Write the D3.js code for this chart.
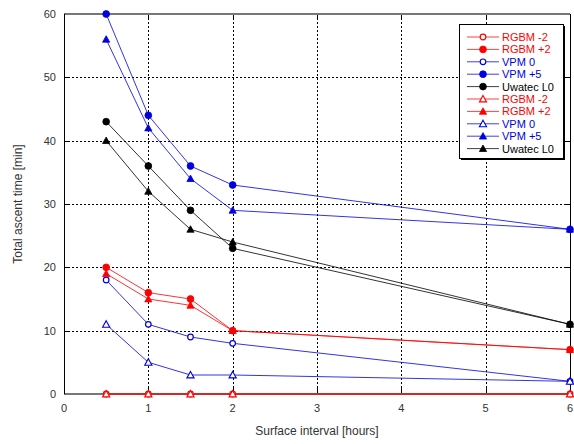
<!DOCTYPE html>
<html><head><meta charset="utf-8">
<script src="https://cdn.jsdelivr.net/npm/d3@7"></script>
<style>body{margin:0;background:#fff}svg{display:block}text{font-family:"Liberation Sans",Arial,sans-serif}</style>
</head><body>
<script>
const intervals = [0.5, 1, 1.5, 2, 6];
const seriesNames = ["RGBM -2","RGBM +2","VPM 0","VPM +5","Uwatec L0","RGBM -2","RGBM +2","VPM 0","VPM +5","Uwatec L0"];
const rgbmM2Circ = [0, 0, 0, 0, 0];
const rgbmP2Circ = [20, 16, 15, 10, 7];
const vpm0Circ = [18, 11, 9, 8, 2];
const vpm5Circ = [60, 44, 36, 33, 26];
const uwatecCirc = [43, 36, 29, 23, 11];
const rgbmM2Tri = [0, 0, 0, 0, 0];
const rgbmP2Tri = [19, 15, 14, 10, 7];
const vpm0Tri = [11, 5, 3, 3, 2];
const vpm5Tri = [56, 42, 34, 29, 26];
const uwatecTri = [40, 32, 26, 24, 11];
const xTicks = [0,1,2,3,4,5,6];
const yTicks = [0,10,20,30,40,50,60];

const RED="#ff0000", BLUE="#0000e0", BLACK="#000000";
const series = [
 {name:seriesNames[0], v:rgbmM2Circ, c:RED, m:"circle", fill:false},
 {name:seriesNames[1], v:rgbmP2Circ, c:RED, m:"circle", fill:true},
 {name:seriesNames[2], v:vpm0Circ, c:BLUE, m:"circle", fill:false},
 {name:seriesNames[3], v:vpm5Circ, c:BLUE, m:"circle", fill:true},
 {name:seriesNames[4], v:uwatecCirc, c:BLACK, m:"circle", fill:true},
 {name:seriesNames[5], v:rgbmM2Tri, c:RED, m:"tri", fill:false},
 {name:seriesNames[6], v:rgbmP2Tri, c:RED, m:"tri", fill:true},
 {name:seriesNames[7], v:vpm0Tri, c:BLUE, m:"tri", fill:false},
 {name:seriesNames[8], v:vpm5Tri, c:BLUE, m:"tri", fill:true},
 {name:seriesNames[9], v:uwatecTri, c:BLACK, m:"tri", fill:true}
];

const W=574,H=444, L=64,R=570,T=14,B=394;
const svg=d3.select("body").append("svg").attr("width",W).attr("height",H);
svg.append("rect").attr("width",W).attr("height",H).attr("fill","#fff");
const x=d3.scaleLinear().domain([0,6]).range([L,R]);
const y=d3.scaleLinear().domain([0,60]).range([B,T]);

// grid
const g=svg.append("g");
g.selectAll(".gy").data(yTicks.filter(t=>t>0&&t<60)).join("line")
 .attr("x1",L).attr("x2",R).attr("y1",d=>Math.round(y(d))+0.5).attr("y2",d=>Math.round(y(d))+0.5)
 .attr("stroke","#000").attr("stroke-dasharray","2,2").attr("stroke-width",1);
g.selectAll(".gx").data(xTicks.filter(t=>t>0&&t<6)).join("line")
 .attr("y1",T).attr("y2",B).attr("x1",d=>Math.round(x(d))+0.5).attr("x2",d=>Math.round(x(d))+0.5)
 .attr("stroke","#000").attr("stroke-dasharray","2,2").attr("stroke-width",1);
// inward ticks
g.selectAll(".tl").data(yTicks).join("line").attr("x1",L).attr("x2",L+6).attr("y1",d=>Math.round(y(d))+0.5).attr("y2",d=>Math.round(y(d))+0.5).attr("stroke","#000");
g.selectAll(".tr").data(yTicks).join("line").attr("x1",R-6).attr("x2",R).attr("y1",d=>Math.round(y(d))+0.5).attr("y2",d=>Math.round(y(d))+0.5).attr("stroke","#000");
g.selectAll(".tb").data(xTicks).join("line").attr("y1",B-6).attr("y2",B).attr("x1",d=>Math.round(x(d))+0.5).attr("x2",d=>Math.round(x(d))+0.5).attr("stroke","#000");
g.selectAll(".tt").data(xTicks).join("line").attr("y1",T).attr("y2",T+6).attr("x1",d=>Math.round(x(d))+0.5).attr("x2",d=>Math.round(x(d))+0.5).attr("stroke","#000");
// frame
svg.append("line").attr("x1",L).attr("x2",R).attr("y1",T).attr("y2",T).attr("stroke","#777").attr("stroke-width",2);
svg.append("line").attr("x1",L).attr("x2",R).attr("y1",B).attr("y2",B).attr("stroke","#777").attr("stroke-width",2);
svg.append("line").attr("x1",L+0.5).attr("x2",L+0.5).attr("y1",T).attr("y2",B).attr("stroke","#000");
svg.append("line").attr("x1",R+0.5).attr("x2",R+0.5).attr("y1",T).attr("y2",B).attr("stroke","#000");

// tick labels
svg.selectAll(".yl").data(yTicks).join("text").attr("x",L-8).attr("y",d=>y(d)+4)
 .attr("text-anchor","end").attr("font-size",11).attr("fill","#333").text(d=>d);
svg.selectAll(".xl").data(xTicks).join("text").attr("x",d=>x(d)).attr("y",B+18)
 .attr("text-anchor","middle").attr("font-size",11).attr("fill","#333").text(d=>d);
svg.append("text").attr("x",(L+R)/2).attr("y",435).attr("text-anchor","middle").attr("font-size",12).attr("fill","#333").text("Surface interval [hours]");
svg.append("text").attr("transform",`translate(22,${(T+B)/2}) rotate(-90)`).attr("text-anchor","middle").attr("font-size",12).attr("fill","#333").text("Total ascent time [min]");

function marker(sel, s, cx, cy){
  if(s.m==="circle"){
    sel.append("circle").attr("cx",cx).attr("cy",cy).attr("r",s.fill?3.4:2.8)
      .attr("fill",s.fill?s.c:"#fff").attr("stroke",s.c).attr("stroke-width",s.fill?0.8:1.2);
  } else {
    const r=3.6;
    const p=[[cx,cy-r],[cx+r,cy+r*0.8],[cx-r,cy+r*0.8]];
    sel.append("path").attr("d","M"+p.map(q=>q.join(",")).join("L")+"Z")
      .attr("fill",s.fill?s.c:"#fff").attr("stroke",s.c).attr("stroke-width",s.fill?0.8:1.1);
  }
}
const line=d3.line().x(d=>x(d[0])).y(d=>y(d[1]));
const pg=svg.append("g");
series.forEach(s=>{
  const pts=intervals.map((t,i)=>[t,s.v[i]]);
  pg.append("path").attr("d",line(pts)).attr("fill","none").attr("stroke",s.c).attr("stroke-width",1).attr("stroke-opacity",0.8);
});
series.forEach(s=>{
  intervals.forEach((t,i)=>marker(pg,s,x(t),y(s.v[i])));
});

// legend
const lx=459, ly=24, lw=104, lh=134;
svg.append("rect").attr("x",lx+2).attr("y",ly+2).attr("width",lw).attr("height",lh).attr("fill","#000");
svg.append("rect").attr("x",lx+0.5).attr("y",ly+0.5).attr("width",lw).attr("height",lh).attr("fill","#fff").attr("stroke","#000");
const lg=svg.append("g");
series.forEach((s,i)=>{
  const yy=ly+13+i*12.4;
  lg.append("line").attr("x1",lx+8).attr("x2",lx+40).attr("y1",yy).attr("y2",yy).attr("stroke",s.c).attr("stroke-opacity",0.75);
  marker(lg,s,lx+24,yy);
  lg.append("text").attr("x",lx+43).attr("y",yy+4).attr("font-size",11).attr("fill",s.c).text(s.name);
});
</script>
</body></html>
